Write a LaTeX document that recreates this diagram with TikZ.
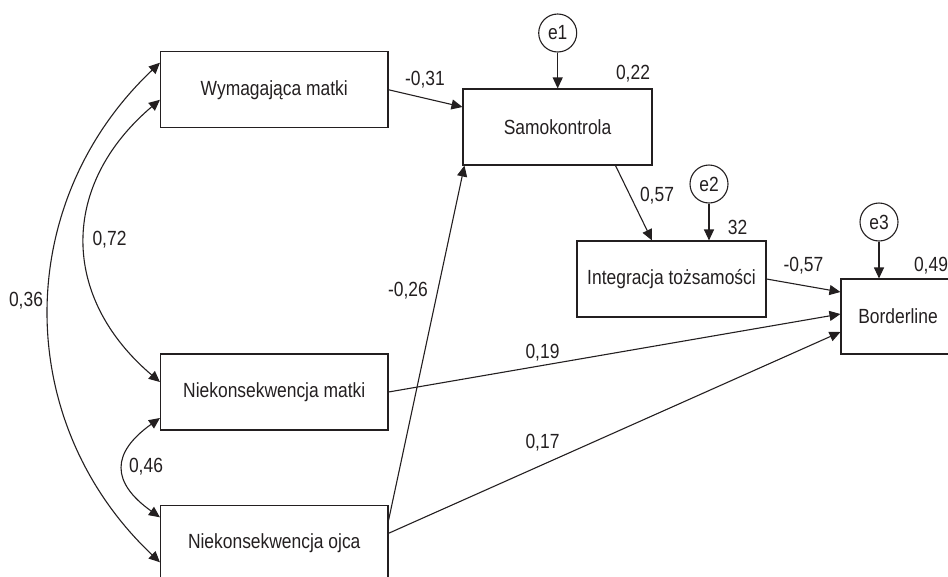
\documentclass[tikz,border=0pt]{standalone}
\usepackage{fontspec}
\setmainfont{Liberation Sans}[FakeStretch=0.85]
\usetikzlibrary{arrows.meta,calc}
\definecolor{ink}{HTML}{231F20}
\begin{document}
\begin{tikzpicture}[x=1pt,y=-1pt,
  font=\fontsize{20.5}{24}\selectfont,
  every node/.style={text=ink},
  box/.style={draw=ink,line width=1.1pt,minimum width=227.5pt,minimum height=76pt,inner sep=0pt},
  smallbox/.style={box,minimum width=189pt},
  err/.style={circle,draw=ink,line width=1.1pt,minimum size=38pt,inner sep=0pt},
  arr/.style={draw=ink,line width=1.1pt,-{Triangle[length=11pt,width=10pt]}},
  dbl/.style={draw=ink,line width=1.1pt,{Triangle[length=11pt,width=10pt]}-{Triangle[length=11pt,width=10pt]}},
  lab/.style={inner sep=0pt}
]
\useasboundingbox (0,0) rectangle (948,576);
% boxes
\node[box] (wym) at (274.25,89.75) {Wymagająca matki};
\node[smallbox] (sam) at (557.5,127) {Samokontrola};
\node[smallbox] (int) at (671.5,279) {Integracja tożsamości};
\node[box,minimum width=114pt,minimum height=75pt] (bor) at (898,316.5) {Borderline};
\node[box] (mat) at (274.25,392) {Niekonsekwencja matki};
\node[box] (ojc) at (274.25,543.3) {Niekonsekwencja ojca};
% error terms
\node[err] (e1) at (557.7,33) {e1};
\node[err] (e2) at (709,184) {e2};
\node[err] (e3) at (879,222) {e3};
% error arrows
\draw[arr] (e1) -- (e1 |- sam.north);
\draw[arr] (e2) -- (e2 |- int.north);
\draw[arr] (e3) -- (e3 |- bor.north);
% paths
\draw[arr] (wym.east) -- ($(sam.west)+(0,-20)$);
\draw[arr] ($(sam.south)+(58,0)$) -- ($(int.north)+(-19.5,0)$);
\draw[arr] (int.east) -- ($(bor.west)+(0,-24.5)$);
\draw[arr] (mat.east) -- ($(bor.west)+(0,-2.5)$);
\draw[arr] ($(ojc.east)+(0,-10)$) -- ($(bor.west)+(0,15.5)$);
\draw[arr] ($(ojc.east)+(0,-23)$) -- ($(sam.south west)+(2,0)$);
% covariances
\draw[dbl] ($(wym.west)+(0,-27)$) .. controls +(-148,140) and +(-148,-140) .. ($(ojc.west)+(0,19)$);
\draw[dbl] ($(wym.west)+(0,10)$) .. controls +(-100,85) and +(-100,-85) .. ($(mat.west)+(0,-10)$);
\draw[dbl] ($(mat.west)+(0,26)$) .. controls +(-49,35) and +(-49,-35) .. ($(ojc.west)+(0,-26)$);
% labels
\node[lab] (l1) at (633,74) {0,22};
\node[lab] (l2) at (737.5,227) {32};
\node[lab] (l3) at (657,196) {0,57};
\node[lab] (l4) at (425,80) {-0,31};
\node[lab] (l5) at (408,291) {-0,26};
\node[lab] (l6) at (109.5,240) {0,72};
\node[lab] (l7) at (26,300.5) {0,36};
\node[lab] (l8) at (146,467) {0,46};
\node[lab] (l9) at (803.5,266) {-0,57};
\node[lab] (l10) at (931,265.5) {0,49};
\node[lab] (l11) at (542.5,352.5) {0,19};
\node[lab] (l12) at (542.5,442.5) {0,17};
\end{tikzpicture}
\end{document}
